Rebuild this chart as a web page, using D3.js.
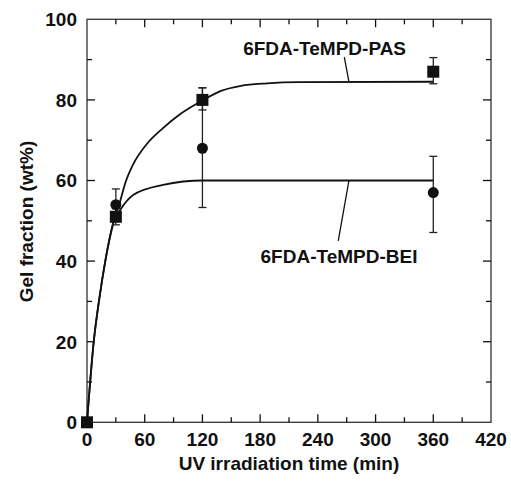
<!DOCTYPE html>
<html>
<head>
<meta charset="utf-8">
<script src="https://cdn.jsdelivr.net/npm/d3@7"></script>
<style>
  body { margin: 0; background: #fff; }
  svg { display: block; font-family: "Liberation Sans", Arial, sans-serif; }
  .lbl { font-weight: bold; fill: #111; }
</style>
</head>
<body>
<svg id="chart" width="511" height="484"></svg>
<script>
// measured points
const timePoints = [0, 30, 120, 360];
const pasValues = [0, 51, 80, 87];
const pasErrLow = [0, 49, 77.5, 84];
const pasErrHigh = [0, 53, 83, 90.5];
const beiValues = [0, 54, 68, 57];
const beiErrLow = [0, 50, 53.3, 47.1];
const beiErrHigh = [0, 57.9, 83, 66];

// fitted curves [time, gel fraction]
const pasCurve = [[0, 0], [7, 20], [13, 31], [19, 40], [28, 50], [34, 54.5], [40, 59.5], [48, 64],
                  [62, 69], [79, 73], [97, 76.5], [121, 80], [140, 82.3], [160, 83.5], [187, 84.1],
                  [220, 84.4], [360, 84.5]];
const beiCurve = [[0, 0], [7, 20], [13, 31], [19, 40], [28, 50], [34, 52.5], [48, 56.4], [79, 58.9],
                  [121, 60], [200, 60], [360, 60]];

const xTicks = [0, 60, 120, 180, 240, 300, 360, 420];
const xMinor = [30, 90, 150, 210, 270, 330, 390];
const yTicks = [0, 20, 40, 60, 80, 100];
const yMinor = [10, 30, 50, 70, 90];

const svg = d3.select("#chart");
const x = d3.scaleLinear().domain([0, 420]).range([87, 491]);
const y = d3.scaleLinear().domain([0, 100]).range([422.3, 19.3]);
const ink = "#111";

// frame
svg.append("rect")
  .attr("x", x(0)).attr("y", y(100))
  .attr("width", x(420) - x(0)).attr("height", y(0) - y(100))
  .attr("fill", "none").attr("stroke", "#333").attr("stroke-width", 1.3);

// inward ticks on all four sides
function ticks(vals, len) {
  vals.forEach(v => {
    svg.append("line").attr("x1", x(v)).attr("x2", x(v)).attr("y1", y(0)).attr("y2", y(0) - len)
      .attr("stroke", ink).attr("stroke-width", 1.3);
    svg.append("line").attr("x1", x(v)).attr("x2", x(v)).attr("y1", y(100)).attr("y2", y(100) + len)
      .attr("stroke", ink).attr("stroke-width", 1.3);
  });
}
function yticks(vals, len) {
  vals.forEach(v => {
    svg.append("line").attr("x1", x(0)).attr("x2", x(0) + len).attr("y1", y(v)).attr("y2", y(v))
      .attr("stroke", ink).attr("stroke-width", 1.3);
    svg.append("line").attr("x1", x(420)).attr("x2", x(420) - len).attr("y1", y(v)).attr("y2", y(v))
      .attr("stroke", ink).attr("stroke-width", 1.3);
  });
}
ticks(xTicks.slice(1, -1), 8);
ticks(xMinor, 5);
yticks(yTicks.slice(1, -1), 8);
yticks(yMinor, 5);

// tick labels
svg.selectAll(".xl").data(xTicks).enter().append("text")
  .attr("class", "lbl").attr("x", d => x(d)).attr("y", 446)
  .attr("text-anchor", "middle").attr("font-size", 19).text(d => d);
svg.selectAll(".yl").data(yTicks).enter().append("text")
  .attr("class", "lbl").attr("x", 77).attr("y", d => y(d)).attr("dy", "0.36em")
  .attr("text-anchor", "end").attr("font-size", 19).text(d => d);

// axis titles
svg.append("text").attr("class", "lbl").attr("x", 289).attr("y", 470)
  .attr("text-anchor", "middle").attr("font-size", 19).text("UV irradiation time (min)");
svg.append("text").attr("class", "lbl")
  .attr("transform", "translate(33," + 221.5 + ") rotate(-90)")
  .attr("text-anchor", "middle").attr("font-size", 19).text("Gel fraction (wt%)");

// fit curves
const line = d3.line().curve(d3.curveMonotoneX).x(d => x(d[0])).y(d => y(d[1]));
[pasCurve, beiCurve].forEach(c => {
  svg.append("path").attr("d", line(c)).attr("fill", "none")
    .attr("stroke", ink).attr("stroke-width", 1.8);
});

// error bars
function errBars(lo, hi) {
  timePoints.forEach((t, i) => {
    if (hi[i] === lo[i]) return;
    const g = svg.append("g").attr("stroke", "#222").attr("stroke-width", 1.3);
    g.append("line").attr("x1", x(t)).attr("x2", x(t)).attr("y1", y(lo[i])).attr("y2", y(hi[i]));
    g.append("line").attr("x1", x(t) - 4).attr("x2", x(t) + 4).attr("y1", y(lo[i])).attr("y2", y(lo[i]));
    g.append("line").attr("x1", x(t) - 4).attr("x2", x(t) + 4).attr("y1", y(hi[i])).attr("y2", y(hi[i]));
  });
}
errBars(beiErrLow, beiErrHigh);
errBars(pasErrLow, pasErrHigh);

// markers
svg.selectAll(".circ").data(timePoints).enter().append("circle")
  .attr("cx", d => x(d)).attr("cy", (d, i) => y(beiValues[i])).attr("r", 5.5).attr("fill", ink);
svg.selectAll(".sq").data(timePoints).enter().append("rect")
  .attr("x", d => x(d) - 6).attr("y", (d, i) => y(pasValues[i]) - 6)
  .attr("width", 12).attr("height", 12).attr("fill", ink);

// annotations
svg.append("text").attr("class", "lbl").attr("x", x(247)).attr("y", y(91.1))
  .attr("text-anchor", "middle").attr("font-size", 19).text("6FDA-TeMPD-PAS");
svg.append("line").attr("x1", x(267.5)).attr("y1", y(90.6)).attr("x2", x(272.3)).attr("y2", y(84.5))
  .attr("stroke", ink).attr("stroke-width", 1.3);
svg.append("text").attr("class", "lbl").attr("x", x(262)).attr("y", y(39.6))
  .attr("text-anchor", "middle").attr("font-size", 19).text("6FDA-TeMPD-BEI");
svg.append("line").attr("x1", x(272.3)).attr("y1", y(60)).attr("x2", x(261.2)).attr("y2", y(45))
  .attr("stroke", ink).attr("stroke-width", 1.3);
</script>
</body>
</html>
